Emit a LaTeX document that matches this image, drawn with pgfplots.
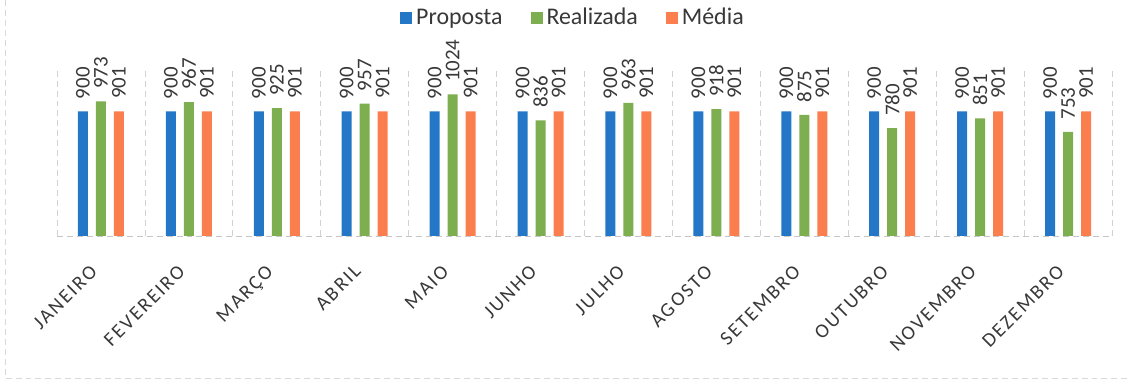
\documentclass[border=0pt]{standalone}
\usepackage{fontspec}
\setmainfont{Carlito}
\usepackage{pgfplots}
\usepackage{pgfplotstable}
\pgfplotsset{compat=1.18}

\definecolor{cprop}{HTML}{2477C6}
\definecolor{creal}{HTML}{7DAE4F}
\definecolor{cmed}{HTML}{FB7E4E}
\definecolor{ctxt}{HTML}{383838}

% meses 0..11
\pgfplotstableread{
x prop real med
0 900 973 901
1 900 967 901
2 900 925 901
3 900 957 901
4 900 1024 901
5 900 836 901
6 900 963 901
7 900 918 901
8 900 875 901
9 900 780 901
10 900 851 901
11 900 753 901
}\dados

\begin{document}
\begin{tikzpicture}
\path[use as bounding box] (0,0) rectangle (565.5bp,190.5bp);
\draw[gray!30, densely dashed] (2.5bp,190.5bp) -- (2.5bp,1.5bp) -- (565.5bp,1.5bp);
\begin{axis}[
    at={(28.5bp,72.5bp)}, anchor=south west,
    scale only axis, width=527.5bp, height=83bp,
    xmin=-0.5, xmax=11.5, ymin=0, ymax=1200,
    enlargelimits=false, clip=false,
    axis x line*=bottom, axis y line=none,
    x axis line style={draw=gray!45, densely dashed, -},
    xtick={0,...,11},
    xticklabels={JANEIRO,FEVEREIRO,MARÇO,ABRIL,MAIO,JUNHO,JULHO,AGOSTO,SETEMBRO,OUTUBRO,NOVEMBRO,DEZEMBRO},
    x tick label style={yshift=-9bp, xshift=-6bp, rotate=45, anchor=north east, text=ctxt,
        font=\fontsize{10}{12}\selectfont\addfontfeatures{LetterSpace=10}},
    major tick length=0pt,
    minor xtick={-0.5,0.5,...,11.5},
    xminorgrids=true,
    minor grid style={gray!35, densely dashed},
    minor tick length=0pt,
    ybar=4bp, bar width=5bp,
    nodes near coords,
    /pgf/number format/assume math mode=true,
    /pgf/number format/1000 sep={},
    every node near coord/.append style={rotate=90, anchor=west, inner xsep=6bp,
        text=ctxt, font=\fontsize{10.5}{12}\selectfont},
    legend columns=3,
    legend style={at={(0.49,1)}, anchor=south, yshift=17bp, draw=none,
        font=\fontsize{12}{14}\selectfont, text=ctxt,
        /tikz/every even column/.append style={column sep=12bp}},
    legend image code/.code={\fill[#1] (0bp,-3bp) rectangle (6bp,3bp);},
]
\addplot[fill=cprop, draw=none] table[x=x, y=prop] {\dados};
\addplot[fill=creal, draw=none] table[x=x, y=real] {\dados};
\addplot[fill=cmed, draw=none] table[x=x, y=med] {\dados};
\legend{Proposta, Realizada, Média}
\end{axis}
\end{tikzpicture}
\end{document}
